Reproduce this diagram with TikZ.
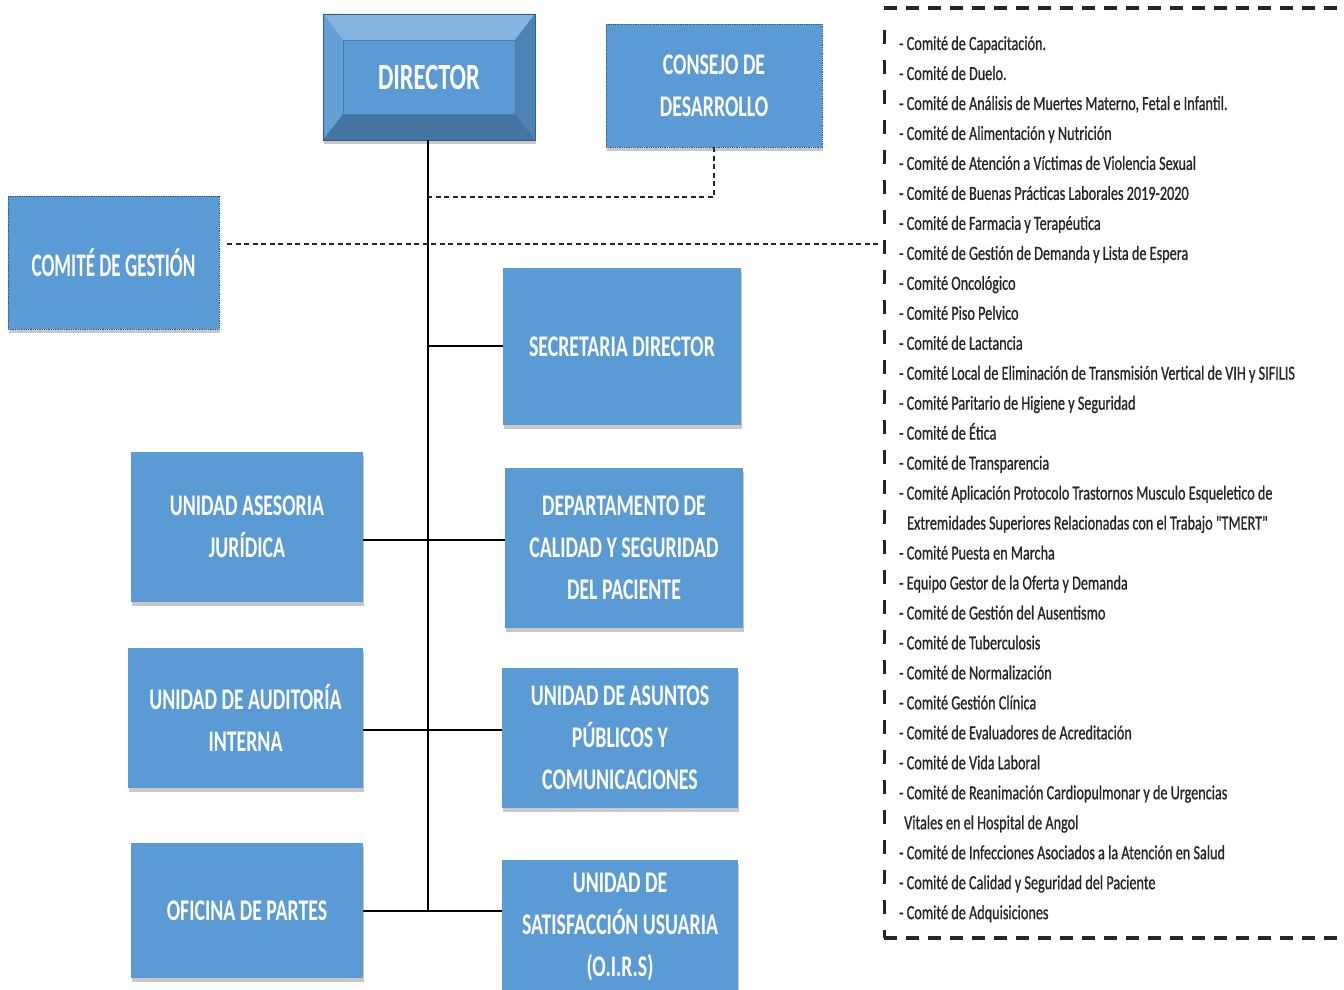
\documentclass[tikz,border=0pt]{standalone}
\usepackage{fontspec}
\setmainfont{Carlito}
\newfontfamily\boxfont{Carlito}[FakeStretch=0.66]
\newfontfamily\gesfont{Carlito}[FakeStretch=0.58]
\newfontfamily\listfont{Carlito}[FakeStretch=0.71,FakeBold=0.8]
\usetikzlibrary{shadows}
\definecolor{boxblue}{RGB}{91,155,213}
\definecolor{boxedge}{RGB}{55,85,125}
\tikzset{
  orgbox/.style={fill=boxblue, text=white, align=center, inner sep=0pt,
    font=\boxfont\bfseries\fontsize{30}{42}\selectfont,
    drop shadow={shadow xshift=1pt, shadow yshift=-4pt, opacity=0.3, fill=black!70}},
  dotbox/.style={orgbox, draw=boxedge, densely dotted, line width=0.8pt},
  trunk/.style={line width=1.7pt, black},
  dashlink/.style={line width=2pt, black!85, dash pattern=on 5pt off 3.5pt},
  listborder/.style={line width=3.2pt, black!85, dash pattern=on 13pt off 9pt},
  listside/.style={line width=3pt, black!85, dash pattern=on 14pt off 16pt},
  listitem/.style={anchor=base west, inner sep=0pt, text=black!85,
    font=\listfont\fontsize{20}{24}\selectfont},
  bevel/.style={path picture={
    \fill[boxblue!75!white] (path picture bounding box.north west) -- (path picture bounding box.north east)
      -- ([xshift=-20pt,yshift=-26pt]path picture bounding box.north east)
      -- ([xshift=20pt,yshift=-26pt]path picture bounding box.north west) -- cycle;
    \fill[boxblue!95!white] (path picture bounding box.north west) -- ([xshift=20pt,yshift=-26pt]path picture bounding box.north west)
      -- ([xshift=20pt,yshift=26pt]path picture bounding box.south west)
      -- (path picture bounding box.south west) -- cycle;
    \fill[boxblue!85!black] (path picture bounding box.north east) -- ([xshift=-20pt,yshift=-26pt]path picture bounding box.north east)
      -- ([xshift=-20pt,yshift=26pt]path picture bounding box.south east)
      -- (path picture bounding box.south east) -- cycle;
    \fill[boxblue!75!black] (path picture bounding box.south west) -- ([xshift=20pt,yshift=26pt]path picture bounding box.south west)
      -- ([xshift=-20pt,yshift=26pt]path picture bounding box.south east)
      -- (path picture bounding box.south east) -- cycle;
    \draw[boxblue!80!black, line width=0.6pt] ([xshift=20pt,yshift=-26pt]path picture bounding box.north west)
      rectangle ([xshift=-20pt,yshift=26pt]path picture bounding box.south east);
  }}
}
\begin{document}
\begin{tikzpicture}[x=1pt,y=-1pt]
\useasboundingbox[fill=white] (0,0) rectangle (1344,990);

% boxes
\node[orgbox, bevel, draw=boxblue!60!black, line width=0.8pt, minimum width=212pt, minimum height=126pt,
  font=\boxfont\bfseries\fontsize{37}{40}\selectfont] (dir) at (429,77) {DIRECTOR};
\node[dotbox, minimum width=216pt, minimum height=123pt, drop shadow={opacity=0}] (consejo) at (714,85.5) {CONSEJO DE\\DESARROLLO};
\node[dotbox, minimum width=211pt, minimum height=133pt, drop shadow={opacity=0},
  font=\gesfont\bfseries\fontsize{33}{40}\selectfont] (gestion) at (113.5,262.5) {COMITÉ DE GESTIÓN};
\node[orgbox, minimum width=238pt, minimum height=157pt] (secretaria) at (622,346.5) {SECRETARIA DIRECTOR};
\node[orgbox, minimum width=238pt, minimum height=160pt] (depto) at (624,548) {DEPARTAMENTO DE\\CALIDAD Y SEGURIDAD\\DEL PACIENTE};
\node[orgbox, minimum width=232pt, minimum height=150pt] (juridica) at (247,527) {UNIDAD ASESORIA\\JURÍDICA};
\node[orgbox, minimum width=235pt, minimum height=140pt] (auditoria) at (245.5,718) {UNIDAD DE AUDITORÍA\\INTERNA};
\node[orgbox, minimum width=236pt, minimum height=140pt] (asuntos) at (620,738) {UNIDAD DE ASUNTOS\\PÚBLICOS Y\\COMUNICACIONES};
\node[orgbox, minimum width=232pt, minimum height=135pt] (oficina) at (247,910.5) {OFICINA DE PARTES};
\node[orgbox, minimum width=236pt, minimum height=134pt] (satisf) at (620,927) {UNIDAD DE\\SATISFACCIÓN USUARIA\\(O.I.R.S)};

% trunk coordinates
\coordinate (tc) at (428,197);
\coordinate (ts) at (428,346);
\coordinate (t1) at (428,540);
\coordinate (t2) at (428,730);
\coordinate (t3) at (428,911);
\coordinate (lg) at (880,244);

% solid connectors
\draw[trunk] (dir.south -| tc) -- (t3);
\draw[trunk] (ts) -- (secretaria.west |- ts);
\draw[trunk] (juridica.east |- t1) -- (depto.west |- t1);
\draw[trunk] (auditoria.east |- t2) -- (asuntos.west |- t2);
\draw[trunk] (oficina.east |- t3) -- (satisf.west |- t3);

% dashed connectors
\draw[dashlink] (consejo.south) -- (consejo.south |- tc) -- (tc);
\draw[dashlink] ([xshift=8pt]gestion.east |- lg) -- (lg);

% list frame
\coordinate (fnw) at (884,8);
\coordinate (fne) at (1344,8);
\coordinate (fsw) at (884,938);
\coordinate (fse) at (1344,938);
\draw[listborder] (fnw) -- (fne);
\draw[listborder] (fsw) -- (fse);
\draw[listside] ([yshift=-22pt]fnw) -- (fsw);

% list items
\foreach \t [count=\i] in {
  {- Comité de Capacitación.},
  {- Comité de Duelo.},
  {- Comité de Análisis de Muertes Materno, Fetal e Infantil.},
  {- Comité de Alimentación y Nutrición},
  {- Comité de Atención a Víctimas de Violencia Sexual},
  {- Comité de Buenas Prácticas Laborales 2019-2020},
  {- Comité de Farmacia y Terapéutica},
  {- Comité de Gestión de Demanda y Lista de Espera},
  {- Comité Oncológico},
  {- Comité Piso Pelvico},
  {- Comité de Lactancia},
  {- Comité Local de Eliminación de Transmisión Vertical de VIH y SIFILIS},
  {- Comité Paritario de Higiene y Seguridad},
  {- Comité de Ética},
  {- Comité de Transparencia},
  {- Comité Aplicación Protocolo Trastornos Musculo Esqueletico de},
  {\hspace*{8pt}Extremidades Superiores Relacionadas con el Trabajo "TMERT"},
  {- Comité Puesta en Marcha},
  {- Equipo Gestor de la Oferta y Demanda},
  {- Comité de Gestión del Ausentismo},
  {- Comité de Tuberculosis},
  {- Comité de Normalización},
  {- Comité Gestión Clínica},
  {- Comité de Evaluadores de Acreditación},
  {- Comité de Vida Laboral},
  {- Comité de Reanimación Cardiopulmonar y de Urgencias},
  {\hspace*{5pt}Vitales en el Hospital de Angol},
  {- Comité de Infecciones Asociados a la Atención en Salud},
  {- Comité de Calidad y Seguridad del Paciente},
  {- Comité de Adquisiciones}}
{
  \node[listitem] (item\i) at (899,{50+29.97*(\i-1)}) {\t};
}
\end{tikzpicture}
\end{document}
